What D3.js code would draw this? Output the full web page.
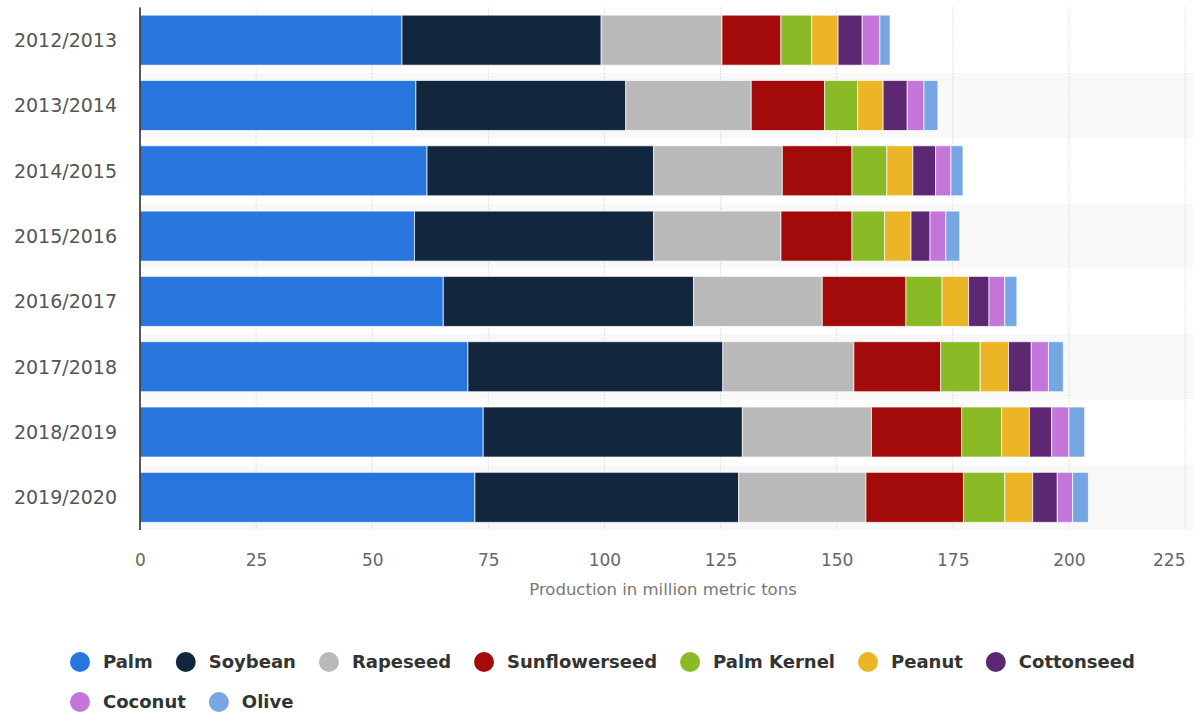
<!DOCTYPE html>
<html>
<head>
<meta charset="utf-8">
<script src="https://cdn.jsdelivr.net/npm/d3@7"></script>
<style>
  body { margin: 0; background: #fff; }
  svg { display: block; font-family: "DejaVu Sans", sans-serif; }
</style>
</head>
<body>
<svg id="svg" width="1193" height="715"></svg>
<script>
// data
const years = ['2012/2013', '2013/2014', '2014/2015', '2015/2016', '2016/2017', '2017/2018', '2018/2019', '2019/2020'];
const oils = ['Palm', 'Soybean', 'Rapeseed', 'Sunflowerseed', 'Palm Kernel', 'Peanut', 'Cottonseed', 'Coconut', 'Olive'];
const colors = ['#2876dd', '#12273d', '#b9b9b9', '#a30b0b', '#8aba26', '#ecb526', '#5d2872', '#c375da', '#77a6e5'];
const palm = [56.4, 59.4, 61.8, 59.1, 65.3, 70.6, 73.9, 72.1];
const soybean = [42.9, 45.2, 48.8, 51.5, 53.9, 54.9, 55.8, 56.8];
const rapeseed = [26.0, 27.0, 27.7, 27.4, 27.7, 28.2, 27.8, 27.4];
const sunflower = [12.7, 15.8, 15.0, 15.3, 18.0, 18.7, 19.4, 21.0];
const palmKernel = [6.6, 7.1, 7.5, 7.0, 7.8, 8.5, 8.6, 8.9];
const peanut = [5.7, 5.5, 5.6, 5.7, 5.7, 6.1, 6.0, 6.0];
const cottonseed = [5.2, 5.2, 4.9, 4.1, 4.4, 4.9, 4.8, 5.3];
const coconut = [3.8, 3.6, 3.3, 3.4, 3.4, 3.7, 3.7, 3.3];
const olive = [2.2, 3.0, 2.6, 3.0, 2.6, 3.2, 3.4, 3.4];
const xTicks = [0, 25, 50, 75, 100, 125, 150, 175, 200, 225];

const series = [palm, soybean, rapeseed, sunflower, palmKernel, peanut, cottonseed, coconut, olive];
const rows = years.map((y, i) => {
  const r = { year: y };
  oils.forEach((k, j) => r[k] = series[j][i]);
  return r;
});

const svg = d3.select('#svg');
const plotLeft = 140, plotRight = 1185, plotTop = 7.5, plotBottom = 530;

const x = d3.scaleLinear().domain([0, 225]).range([plotLeft, plotRight]);
const y = d3.scaleBand().domain(years).range([plotTop, plotBottom]).paddingInner(0.234).paddingOuter(0.117);
const color = d3.scaleOrdinal().domain(oils).range(colors);

// alternating row bands
const step = y.step();
svg.append('g').selectAll('rect')
  .data(years.filter((d, i) => i % 2 === 1))
  .join('rect')
  .attr('x', plotLeft)
  .attr('width', 1193 - plotLeft)
  .attr('y', d => y(d) - step * 0.117)
  .attr('height', step)
  .attr('fill', '#f8f8f8');

// dotted grid
svg.append('g').selectAll('line')
  .data(xTicks.filter(t => t > 0))
  .join('line')
  .attr('x1', d => x(d)).attr('x2', d => x(d))
  .attr('y1', plotTop).attr('y2', plotBottom)
  .attr('stroke', '#c8c8c8')
  .attr('stroke-dasharray', '1,2');

// stacked bars
const stacked = d3.stack().keys(oils)(rows);
svg.append('g').selectAll('g')
  .data(stacked)
  .join('g')
  .attr('fill', d => color(d.key))
  .selectAll('rect')
  .data(d => d)
  .join('rect')
  .attr('x', d => x(d[0]))
  .attr('width', d => x(d[1]) - x(d[0]))
  .attr('y', d => y(d.data.year))
  .attr('height', y.bandwidth())
  .attr('stroke', '#fff')
  .attr('stroke-opacity', 0.7)
  .attr('stroke-width', 1);

// y axis line
svg.append('line')
  .attr('x1', plotLeft).attr('x2', plotLeft)
  .attr('y1', plotTop).attr('y2', plotBottom)
  .attr('stroke', '#222').attr('stroke-width', 1.5);

// category labels
svg.append('g').selectAll('text')
  .data(years)
  .join('text')
  .attr('x', 117)
  .attr('y', d => y(d) + y.bandwidth() / 2)
  .attr('dy', '0.36em')
  .attr('text-anchor', 'end')
  .attr('fill', '#555')
  .attr('font-size', 19)
  .text(d => d);

// x axis tick labels
const xAxis = svg.append('g')
  .attr('transform', `translate(0,${plotBottom})`)
  .call(d3.axisBottom(x).tickValues(xTicks).tickSize(0).tickPadding(24));
xAxis.select('.domain').remove();
xAxis.selectAll('text')
  .attr('fill', '#666')
  .attr('font-size', 17)
  .attr('font-family', '"DejaVu Sans", sans-serif');
// last label is kept inside the plot, like the original
xAxis.selectAll('.tick').filter(d => d === 225).select('text')
  .attr('text-anchor', 'end');

svg.append('text')
  .attr('x', 663).attr('y', 595)
  .attr('text-anchor', 'middle')
  .attr('fill', '#777')
  .attr('font-size', 16.5)
  .text('Production in million metric tons');

// legend
const legendRows = [oils.slice(0, 7), oils.slice(7)];
legendRows.forEach((items, r) => {
  let cx = 80;
  const cy = 662 + r * 40;
  items.forEach(name => {
    svg.append('circle')
      .attr('cx', cx).attr('cy', cy).attr('r', 10)
      .attr('fill', color(name));
    const t = svg.append('text')
      .attr('x', cx + 23).attr('y', cy)
      .attr('dy', '0.36em')
      .attr('fill', '#333')
      .attr('font-size', 18)
      .attr('font-weight', 'bold')
      .text(name);
    cx += 23 + t.node().getComputedTextLength() + 33;
  });
});
</script>
</body>
</html>
